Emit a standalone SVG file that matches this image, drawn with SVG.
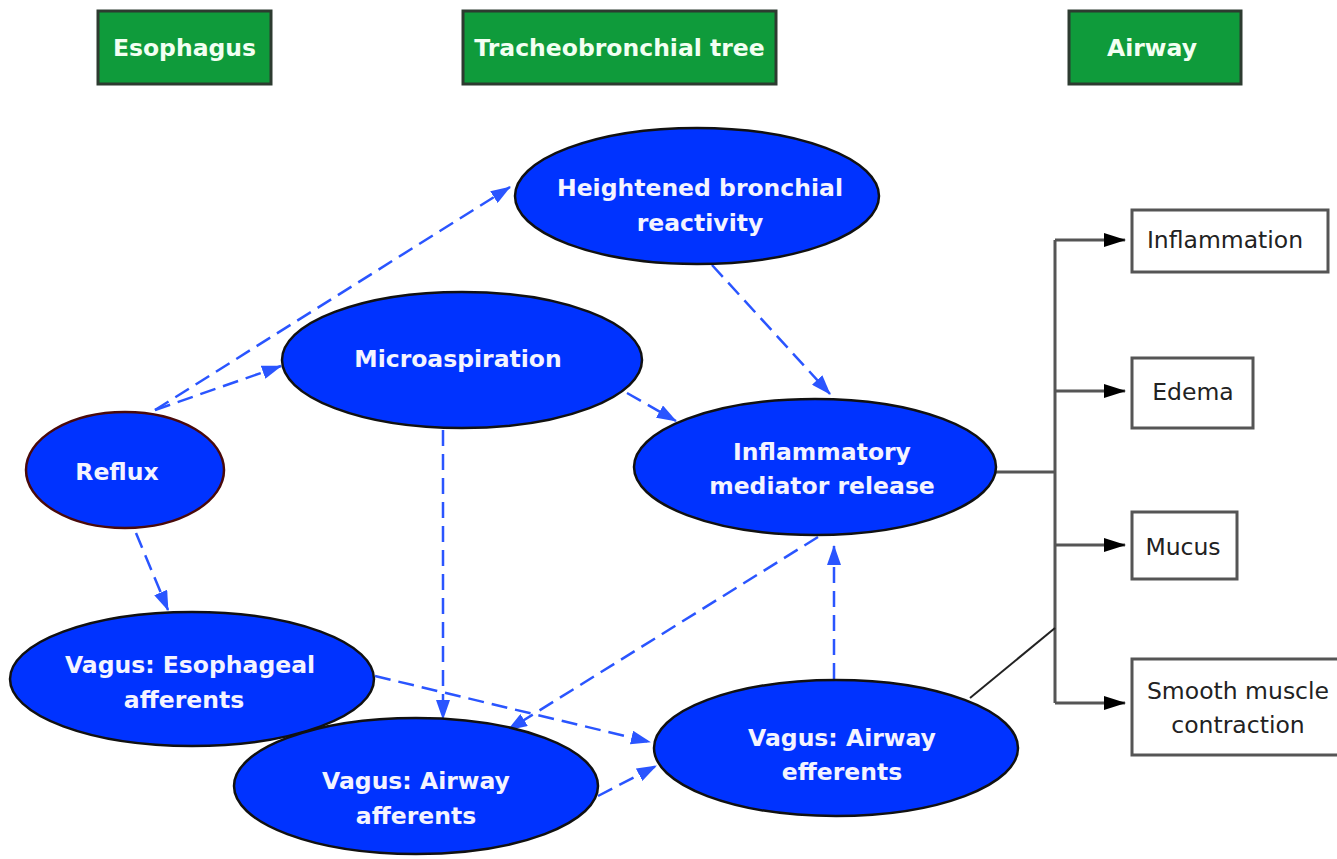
<svg xmlns="http://www.w3.org/2000/svg" width="1337" height="859" viewBox="0 0 1337 859">
<style>
.hdr{fill:#0f9b3b;stroke:#2d3b30;stroke-width:3}
.hdrt{font-family:"DejaVu Sans",sans-serif;font-weight:bold;font-size:23.5px;fill:#f2fff2;text-anchor:middle}
.ell{fill:#0033ff;stroke:#111;stroke-width:2.5}
.et{font-family:"DejaVu Sans",sans-serif;font-weight:bold;font-size:23.5px;fill:#f4f4ff;text-anchor:middle}
.box{fill:#fff;stroke:#555;stroke-width:3}
.bt{font-family:"DejaVu Sans",sans-serif;font-size:23.5px;fill:#222;text-anchor:middle}
.dash{fill:none;stroke:#2a55ff;stroke-width:2.5;stroke-dasharray:16 8;marker-end:url(#ab)}
.tree{fill:none;stroke:#555;stroke-width:3}
</style>
<defs>
<marker id="ab" markerWidth="20" markerHeight="14" refX="19" refY="7" orient="auto" markerUnits="userSpaceOnUse">
<path d="M0,0 L20,7 L0,14 Z" fill="#2a55ff"/>
</marker>
<marker id="ak" markerWidth="22" markerHeight="14" refX="21" refY="7" orient="auto" markerUnits="userSpaceOnUse">
<path d="M0,0 L22,7 L0,14 Z" fill="#000"/>
</marker>
</defs>
<rect width="1337" height="859" fill="#fff"/>
<g id="h-esophagus"><rect class="hdr" x="98" y="11" width="173" height="73"/><text class="hdrt" x="184.5" y="56">Esophagus</text></g>
<g id="h-trachea"><rect class="hdr" x="463" y="11" width="313" height="73"/><text class="hdrt" x="619.5" y="56">Tracheobronchial tree</text></g>
<g id="h-airway"><rect class="hdr" x="1069" y="11" width="172" height="73"/><text class="hdrt" x="1152" y="56">Airway</text></g>

<g id="connectors">
<path class="dash" d="M155,410 L510,187"/>
<path class="dash" d="M155,410 L281,366"/>
<path class="dash" d="M136,533 L168,610"/>
<path class="dash" d="M712,265 L830,394"/>
<path class="dash" d="M627,393 L676,421"/>
<path class="dash" d="M443,430 L443,719"/>
<path class="dash" d="M375,676 L650,742"/>
<path class="dash" d="M598,796 L656,766"/>
<path class="dash" d="M818,537 L508,730"/>
<path class="dash" d="M834,679 L834,546"/>
<path class="tree" d="M996,472 L1055,472 M1055,240 L1055,703"/>
<path d="M970,698 L1055,628" style="fill:none;stroke:#222;stroke-width:2"/>
<path class="tree" marker-end="url(#ak)" d="M1055,240 L1125,240"/>
<path class="tree" marker-end="url(#ak)" d="M1055,391 L1125,391"/>
<path class="tree" marker-end="url(#ak)" d="M1055,545 L1125,545"/>
<path class="tree" marker-end="url(#ak)" d="M1055,703 L1125,703"/>
</g>

<g id="n-heightened"><ellipse class="ell" cx="697" cy="196" rx="182" ry="68"/><text class="et" x="700" y="196">Heightened bronchial</text><text class="et" x="700" y="231">reactivity</text></g>
<g id="n-micro"><ellipse class="ell" cx="462" cy="360" rx="180" ry="68"/><text class="et" x="458" y="367">Microaspiration</text></g>
<g id="n-reflux"><ellipse class="ell" cx="125" cy="470" rx="99" ry="58" style="stroke:#4a0a0a"/><text class="et" x="117" y="480">Reflux</text></g>
<g id="n-inflam"><ellipse class="ell" cx="815" cy="467" rx="181" ry="68"/><text class="et" x="822" y="460">Inflammatory</text><text class="et" x="822" y="494">mediator release</text></g>
<g id="n-esoaff"><ellipse class="ell" cx="192" cy="679" rx="182" ry="67"/><text class="et" x="190" y="673">Vagus: Esophageal</text><text class="et" x="184" y="708">afferents</text></g>
<g id="n-airaff"><ellipse class="ell" cx="416" cy="786" rx="182" ry="68"/><text class="et" x="416" y="789">Vagus: Airway</text><text class="et" x="416" y="824">afferents</text></g>
<g id="n-aireff"><ellipse class="ell" cx="836" cy="748" rx="182" ry="68"/><text class="et" x="842" y="746">Vagus: Airway</text><text class="et" x="842" y="780">efferents</text></g>

<g id="b-inflammation"><rect class="box" x="1132" y="210" width="196" height="62"/><text class="bt" x="1225" y="248">Inflammation</text></g>
<g id="b-edema"><rect class="box" x="1132" y="358" width="121" height="70"/><text class="bt" x="1193" y="400">Edema</text></g>
<g id="b-mucus"><rect class="box" x="1132" y="512" width="105" height="67"/><text class="bt" x="1183" y="555">Mucus</text></g>
<g id="b-smooth"><rect class="box" x="1132" y="659" width="210" height="96"/><text class="bt" x="1238" y="699">Smooth muscle</text><text class="bt" x="1238" y="733">contraction</text></g>
</svg>
